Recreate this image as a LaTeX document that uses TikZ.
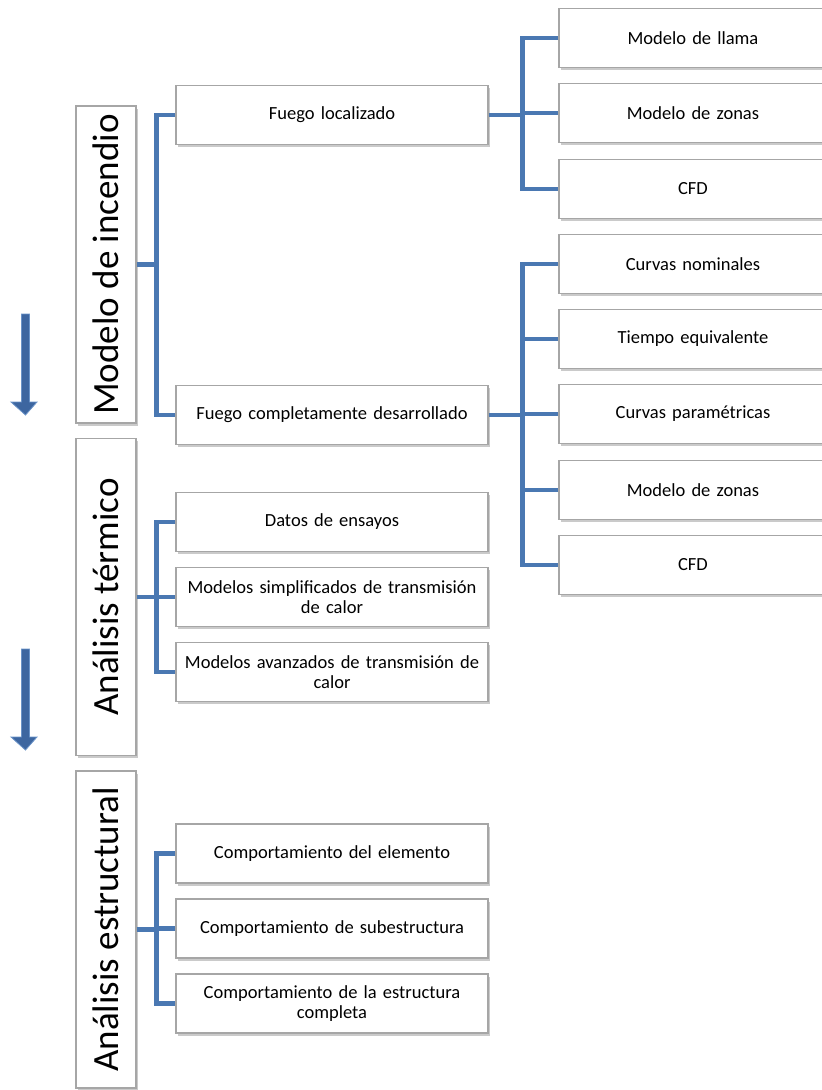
\documentclass[tikz,border=0pt]{standalone}
\usepackage{fontspec}
\setmainfont{Carlito}
\usetikzlibrary{shadows}
\definecolor{connblue}{HTML}{4A78B2}
\definecolor{arrowfill}{HTML}{3D66A0}
\definecolor{arrowedge}{HTML}{6A93C8}
\definecolor{boxedge}{HTML}{A6A6A6}
\tikzset{
  boxbase/.style={draw=boxedge, line width=1.2pt, fill=white, minimum height=59pt,
    inner sep=2pt, align=center,
    font=\fontsize{18.5}{20.5}\selectfont,
    drop shadow={shadow xshift=1.5pt, shadow yshift=-2.5pt, opacity=0.35, fill=black!60}},
  box/.style={boxbase, minimum width=312pt, text width=300pt},
  rbox/.style={boxbase, minimum width=268pt, text width=256pt},
  vbox/.style={draw=boxedge, line width=1.2pt, fill=white, minimum width=60pt, minimum height=317pt,
    inner sep=0pt, font=\fontsize{37}{40}\selectfont,
    drop shadow={shadow xshift=1.5pt, shadow yshift=-2.5pt, opacity=0.35, fill=black!60}},
  conn/.style={draw=connblue, line width=4.5pt},
  bigarrow/.style={fill=arrowfill, draw=arrowedge, line width=0.8pt}
}
\begin{document}
\begin{tikzpicture}[x=1pt,y=-1pt]
\useasboundingbox (0,0) rectangle (822,1090);
% left vertical boxes
\node[vbox] (mi) at (106,264.5) {\rotatebox{90}{Modelo de incendio}};
\node[vbox] (at) at (106,597) {\rotatebox{90}{Análisis térmico}};
\node[vbox] (ae) at (106,929.5) {\rotatebox{90}{Análisis estructural}};
% middle boxes
\node[box] (fl) at (332,115) {Fuego localizado};
\node[box] (fcd) at (332,415) {Fuego completamente desarrollado};
\node[box] (de) at (332,522) {Datos de ensayos};
\node[box] (ms) at (332,597) {Modelos simplificados de transmisión\\de calor};
\node[box] (ma) at (332,672) {Modelos avanzados de transmisión de\\calor};
\node[box] (ce) at (332,853.5) {Comportamiento del elemento};
\node[box] (cs) at (332,928.5) {Comportamiento de subestructura};
\node[box] (cc) at (332,1003.5) {Comportamiento de la estructura\\completa};
% right boxes
\node[rbox] (ml) at (693,38) {Modelo de llama};
\node[rbox] (mz1) at (693,113) {Modelo de zonas};
\node[rbox] (cfd1) at (693,189) {CFD};
\node[rbox] (cn) at (693,264) {Curvas nominales};
\node[rbox] (te) at (693,339) {Tiempo equivalente};
\node[rbox] (cp) at (693,414) {Curvas paramétricas};
\node[rbox] (mz2) at (693,490) {Modelo de zonas};
\node[rbox] (cfd2) at (693,565) {CFD};
% connectors left groups
\draw[conn] (mi.east) -- ++(21,0);
\draw[conn] (fl.west) -- ++(-19,0) |- (fcd.west);
\draw[conn] (at.east) -- ++(21,0);
\draw[conn] (de.west) -- ++(-19,0) |- (ma.west);
\draw[conn] (ms.west) -- ++(-19,0);
\draw[conn] (ae.east) -- ++(21,0);
\draw[conn] (ce.west) -- ++(-19,0) |- (cc.west);
\draw[conn] (cs.west) -- ++(-19,0);
% connectors right groups
\draw[conn] (fl.east) -- ++(36,0);
\draw[conn] (ml.west) -- ++(-36,0) |- (cfd1.west);
\draw[conn] (mz1.west) -- ++(-36,0);
\draw[conn] (fcd.east) -- ++(36,0);
\draw[conn] (cn.west) -- ++(-36,0) |- (cfd2.west);
\draw[conn] (te.west) -- ++(-36,0);
\draw[conn] (cp.west) -- ++(-36,0);
\draw[conn] (mz2.west) -- ++(-36,0);
% down arrows
\draw[bigarrow] (21.5,314) -- (29.5,314) -- (29.5,402) -- (37,402) -- (25.5,415) -- (11,402) -- (21.5,402) -- cycle;
\draw[bigarrow] (21.5,649) -- (29.5,649) -- (29.5,737) -- (37,737) -- (25.5,750) -- (11,737) -- (21.5,737) -- cycle;
\end{tikzpicture}
\end{document}
